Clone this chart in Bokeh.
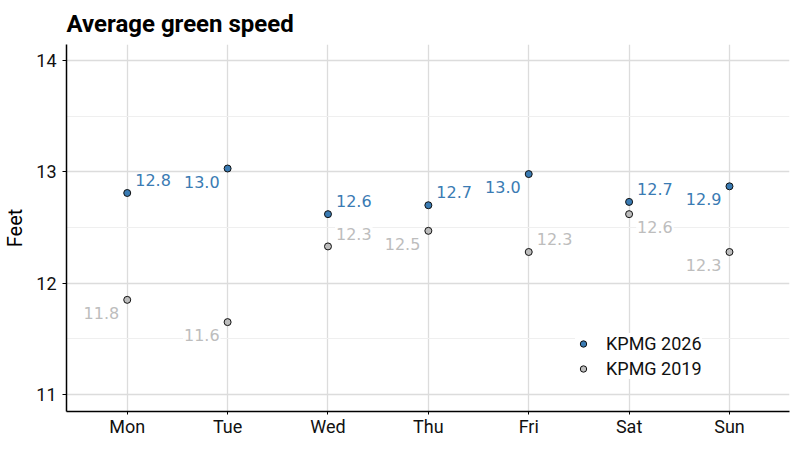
from bokeh.plotting import figure
from bokeh.models import ColumnDataSource, FixedTicker, Legend, LegendItem, Range1d
from bokeh.core.properties import value
from bokeh.embed import file_html
from bokeh.resources import INLINE

days = ["Mon", "Tue", "Wed", "Thu", "Fri", "Sat", "Sun"]
kpmg_2026 = [12.81, 13.03, 12.62, 12.70, 12.98, 12.73, 12.87]
kpmg_2019 = [11.85, 11.65, 12.33, 12.47, 12.28, 12.62, 12.28]
labels_2026 = ["12.8", "13.0", "12.6", "12.7", "13.0", "12.7", "12.9"]
labels_2019 = ["11.8", "11.6", "12.3", "12.5", "12.3", "12.6", "12.3"]
y_ticks = [11, 12, 13, 14]

# label placement (style): u/l = above/below, r/l = right/left of the point
side_2026 = ["ur", "ll", "ur", "ur", "ll", "ur", "ll"]
side_2019 = ["ll", "ll", "ur", "ll", "ur", "lr", "ll"]

BLUE = "#3a7bb3"
GREY = "#bdbdbd"
xs = list(range(len(days)))


def placement(sides):
    align = ["left" if s[1] == "r" else "right" for s in sides]
    xo = [7 if s[1] == "r" else -7 for s in sides]
    yo = [-12.8 if s[0] == "u" else 13 for s in sides]
    return align, xo, yo


p = figure(width=792, height=440, output_backend="svg", toolbar_location=None,
           x_range=Range1d(-0.605, 6.598), y_range=Range1d(10.847, 14.144),
           min_border_left=58, min_border_right=3, min_border_top=36,
           min_border_bottom=29)
p.title.text = "Average green speed"
p.title.text_font = "Roboto"
p.title.text_font_style = "bold"
p.title.text_font_size = "24px"
p.title.text_color = "#000000"
p.title.offset = 0
p.title.standoff = 14

p.outline_line_color = None

for ax in (p.xaxis[0], p.yaxis[0]):
    ax.axis_line_color = "#000000"
    ax.axis_line_width = 1.5
    ax.major_tick_line_color = "#000000"
    ax.major_tick_in = 0
    ax.minor_tick_line_color = None
    ax.major_label_text_font = "Roboto"
    ax.major_label_text_font_size = "18px"
    ax.major_label_text_color = "#111111"

p.xaxis.ticker = FixedTicker(ticks=xs)
p.xaxis.major_label_overrides = {i: d for i, d in enumerate(days)}
p.xaxis.major_tick_out = 3
p.xaxis.major_label_standoff = 1

p.yaxis.ticker = FixedTicker(ticks=y_ticks, minor_ticks=[10.5 + i for i in range(4)])
p.yaxis.major_tick_out = 4
p.yaxis.major_label_standoff = 6
p.yaxis.axis_label = "Feet"
p.yaxis.axis_label_text_font = "Roboto"
p.yaxis.axis_label_text_font_style = "normal"
p.yaxis.axis_label_text_font_size = "20px"
p.yaxis.axis_label_text_color = "#000000"
p.yaxis.axis_label_standoff = 6

p.xgrid.ticker = FixedTicker(ticks=xs)
p.xgrid.grid_line_color = "#dcdcdc"
p.xgrid.grid_line_width = 1.3
p.ygrid.grid_line_color = "#dcdcdc"
p.ygrid.grid_line_width = 1.3
p.ygrid.minor_grid_line_color = "#efefef"
p.ygrid.minor_grid_line_width = 1

a26, xo26, yo26 = placement(side_2026)
a19, xo19, yo19 = placement(side_2019)
src26 = ColumnDataSource(dict(x=xs, y=kpmg_2026, t=labels_2026, a=a26, xo=xo26, yo=yo26))
src19 = ColumnDataSource(dict(x=xs, y=kpmg_2019, t=labels_2019, a=a19, xo=xo19, yo=yo19))

for src, col in ((src26, BLUE), (src19, GREY)):
    p.text(x="x", y="y", text="t", source=src, text_align="a", x_offset="xo",
           y_offset="yo", text_baseline="middle", text_font=value("DejaVu Sans"),
           text_font_size="16px", text_color=col,
           background_fill_color="white", background_fill_alpha=0.85, padding=1)

r26 = p.scatter(x="x", y="y", source=src26, size=7, fill_color=BLUE,
                line_color="#111111", line_width=1)
r19 = p.scatter(x="x", y="y", source=src19, size=7, fill_color=GREY,
                line_color="#111111", line_width=1)

legend = Legend(items=[LegendItem(label="KPMG 2026", renderers=[r26]),
                       LegendItem(label="KPMG 2019", renderers=[r19])],
                location=(509, 32), margin=0, padding=4, spacing=4,
                glyph_width=16, glyph_height=21, label_height=21, label_standoff=15,
                label_text_font="Roboto", label_text_font_size="18px",
                label_text_color="#111111", border_line_color=None,
                background_fill_color="white", background_fill_alpha=1)
p.add_layout(legend)

open("out.html", "w").write(file_html(p, INLINE))
